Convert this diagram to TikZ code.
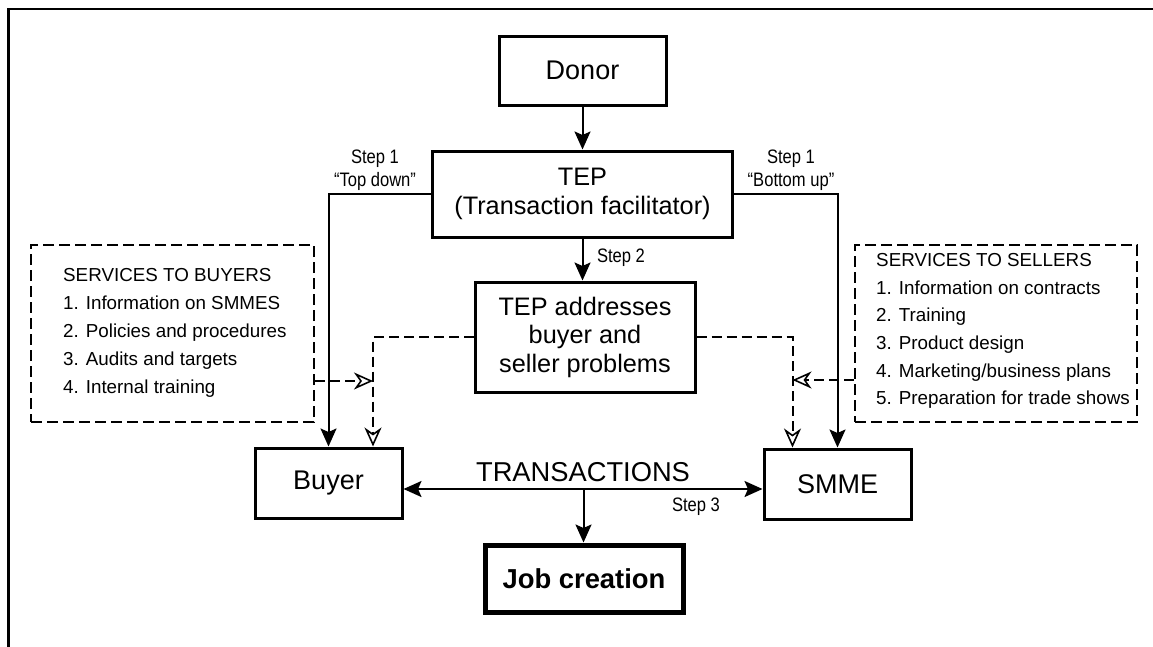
\documentclass[tikz,border=0pt]{standalone}
\usepackage{fontspec}
\setmainfont{Liberation Sans}
\newfontfamily\narrowfont[FakeStretch=0.85]{Liberation Sans}
\usetikzlibrary{arrows.meta,calc}

\begin{document}
\begin{tikzpicture}[x=1pt,y=-1pt,
  mainbox/.style={draw, line width=3pt, inner sep=0pt, align=center,
    font=\fontsize{27}{30}\selectfont},
  midbox/.style={mainbox, font=\fontsize{25.3}{28.5}\selectfont},
  svcbox/.style={draw, line width=2.2pt, dash pattern=on 11pt off 5pt, inner sep=0pt},
  svctext/.style={anchor=west, align=left, inner sep=0pt},
  steplabel/.style={align=center, inner sep=0pt,
    font=\narrowfont\fontsize{19.5}{23}\selectfont},
  solidhead/.tip={Stealth[length=18pt,width=16pt,inset=3.5pt]},
  link/.style={line width=2pt, -solidhead},
  dlink/.style={line width=2pt, dash pattern=on 10pt off 5pt,
    -{Stealth[open,length=19pt,width=17pt,inset=6pt,line width=1.6pt,fill=white]}}]

\useasboundingbox (0,0) rectangle (1153,646);

% outer frame (only the left and top edges fall inside the page)
\draw[line width=2.5pt] (8.5,660) -- (8.5,9) -- (1160,9);

% main boxes
\node[mainbox, minimum width=167pt, minimum height=69pt] (donor) at (582.5,70.5) {Donor};
\node[midbox, minimum width=300pt, minimum height=86pt] (tep) at (582.5,194) {TEP\\(Transaction facilitator)};
\node[midbox, minimum width=220pt, minimum height=110pt] (prob) at (585,337) {TEP addresses\\buyer and\\seller problems};
\node[mainbox, minimum width=147pt, minimum height=70pt] (buyer) at (328.5,483) {Buyer};
\node[mainbox, minimum width=147pt, minimum height=70pt] (smme) at (837.5,484) {SMME};
\node[mainbox, line width=5pt, minimum width=198pt, minimum height=67pt,
      font=\bfseries\fontsize{27.4}{30}\selectfont] (job) at (584,578.5) {Job creation};

% service boxes
\node[svcbox, minimum width=283pt, minimum height=177pt] (sbuy) at (172.5,333.5) {};
\node[svctext, font=\fontsize{18.8}{28}\selectfont] (sbuytext) at (63,333) {SERVICES TO BUYERS\\1. Information on SMMES\\2. Policies and procedures\\3. Audits and targets\\4. Internal training};
\node[svcbox, minimum width=282pt, minimum height=177pt] (ssell) at (996,333.5) {};
\node[svctext, font=\fontsize{18.8}{27.6}\selectfont] (sselltext) at (876,331) {SERVICES TO SELLERS\\1. Information on contracts\\2. Training\\3. Product design\\4. Marketing/business plans\\5. Preparation for trade shows};

% helper points
\coordinate (bx) at (373,0);
\coordinate (sx) at (792.5,0);
\coordinate (bjoin) at (373,381);
\coordinate (sjoin) at (792.5,380);
\coordinate (tmid) at (583.5,489);

% solid connectors
\draw[link] (donor.south) -- (donor.south |- tep.north);
\draw[link] (tep.south) -- (tep.south |- prob.north);
\draw[link] (tep.west) -| (buyer.north);
\draw[link] (tep.east) -| (smme.north);
\draw[line width=2pt, solidhead-solidhead] (buyer.east |- tmid) -- (smme.west |- tmid);
\draw[link] (tmid) -- (tmid |- job.north);

% dashed connectors
\draw[dlink] (prob.west) -| (bx |- buyer.north);
\draw[dlink] (prob.east) -| (sx |- smme.north);
\draw[dlink] (sbuy.east |- bjoin) -- (bjoin);
\draw[dlink] (ssell.west |- sjoin) -- (sjoin);

% labels
\node[steplabel] (s1l) at (375,170.5) {Step 1\\“Top down”};
\node[steplabel] (s1r) at (791,170.5) {Step 1\\“Bottom up”};
\node[steplabel] (s2) at (621,258) {Step 2};
\node[steplabel] (s3) at (696,507) {Step 3};
\node[inner sep=0pt, font=\fontsize{27.3}{30}\selectfont] (trans) at (583,472) {TRANSACTIONS};
\end{tikzpicture}
\end{document}
